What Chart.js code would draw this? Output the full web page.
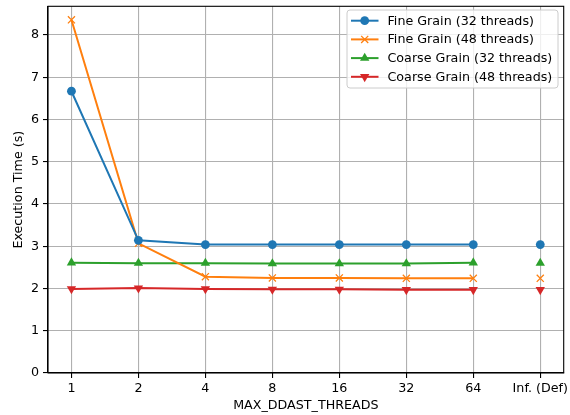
<!DOCTYPE html>
<html><head><meta charset="utf-8">
<script src="https://cdn.jsdelivr.net/npm/chart.js@4/dist/chart.umd.min.js"></script>
<style>html,body{margin:0;padding:0;background:#fff}</style>
</head><body>
<canvas id="c" width="570" height="415"></canvas>
<script>
const categories = ['1','2','4','8','16','32','64','Inf. (Def)'];
const fine32 = [6.67, 3.14, 3.04, 3.04, 3.04, 3.04, 3.04, 3.04];
const fine48 = [8.36, 3.07, 2.28, 2.25, 2.25, 2.24, 2.24, 2.24];
const coarse32 = [2.61, 2.60, 2.60, 2.59, 2.59, 2.59, 2.61, 2.60];
const coarse48 = [1.99, 2.01, 1.99, 1.98, 1.98, 1.97, 1.97, 1.97];
const yTicks = [0, 1, 2, 3, 4, 5, 6, 7, 8];
const seriesNames = ['Fine Grain (32 threads)', 'Fine Grain (48 threads)', 'Coarse Grain (32 threads)', 'Coarse Grain (48 threads)'];

const FONT = {family: 'DejaVu Sans', size: 12.7, lineHeight: 1.2};
const styles = [
  {color: '#1f77b4', pointStyle: 'circle', rotation: 0, radius: 4.4, bw: 0},
  {color: '#ff7f0e', pointStyle: 'crossRot', rotation: 0, radius: 5, bw: 1.3},
  {color: '#2ca02c', pointStyle: 'triangle', rotation: 0, radius: 5.4, bw: 0},
  {color: '#d62728', pointStyle: 'triangle', rotation: 180, radius: 5.4, bw: 0}
];
const allSeries = [fine32, fine48, coarse32, coarse48];

const datasets = allSeries.map((vals, k) => ({
  label: seriesNames[k],
  data: vals.map((v, i) => ({x: i, y: v})),
  borderColor: styles[k].color,
  backgroundColor: styles[k].color,
  pointBackgroundColor: styles[k].color,
  pointBorderColor: styles[k].color,
  pointStyle: styles[k].pointStyle,
  pointRotation: styles[k].rotation,
  pointRadius: styles[k].radius,
  pointHoverRadius: styles[k].radius,
  pointBorderWidth: styles[k].bw,
  borderWidth: 2,
  tension: 0,
  fill: false,
  segment: {borderColor: ctx => ctx.p1DataIndex === categories.length - 1 ? 'rgba(0,0,0,0)' : undefined}
}));

const framePlugin = {
  id: 'frame',
  afterDatasetsDraw(chart) {
    const {ctx, chartArea: a} = chart;
    ctx.save();
    ctx.strokeStyle = '#000';
    ctx.lineWidth = 1.1;
    ctx.strokeRect(a.left, a.top, a.right - a.left, a.bottom - a.top);
    ctx.restore();
  }
};

const legendPlugin = {
  id: 'mplLegend',
  afterDraw(chart) {
    const ctx = chart.ctx;
    const x0 = 347, y0 = 10, w = 211, h = 78, r = 3;
    ctx.save();
    ctx.beginPath();
    ctx.moveTo(x0 + r, y0);
    ctx.arcTo(x0 + w, y0, x0 + w, y0 + h, r);
    ctx.arcTo(x0 + w, y0 + h, x0, y0 + h, r);
    ctx.arcTo(x0, y0 + h, x0, y0, r);
    ctx.arcTo(x0, y0, x0 + w, y0, r);
    ctx.closePath();
    ctx.fillStyle = 'rgba(255,255,255,0.8)';
    ctx.fill();
    ctx.strokeStyle = '#cccccc';
    ctx.lineWidth = 1;
    ctx.stroke();
    ctx.font = '12.7px "DejaVu Sans"';
    ctx.textBaseline = 'middle';
    ctx.textAlign = 'left';
    seriesNames.forEach((name, k) => {
      const y = 20.7 + k * 18.7;
      const s = styles[k];
      ctx.strokeStyle = s.color;
      ctx.fillStyle = s.color;
      ctx.lineWidth = 2;
      ctx.beginPath();
      ctx.moveTo(351, y);
      ctx.lineTo(378.5, y);
      ctx.stroke();
      ctx.lineWidth = s.bw || 1;
      Chart.helpers.drawPoint(ctx, {pointStyle: s.pointStyle, radius: s.radius, rotation: s.rotation, borderWidth: s.bw}, 364.7, y);
      ctx.fillStyle = '#000';
      ctx.fillText(name, 387.5, y + 0.5);
    });
    ctx.restore();
  }
};

new Chart(document.getElementById('c'), {
  type: 'line',
  data: {datasets},
  options: {
    responsive: false,
    animation: false,
    devicePixelRatio: 1,
    layout: {padding: {top: 2, right: 5, left: 0, bottom: 0}},
    plugins: {legend: {display: false}, tooltip: {enabled: false}},
    scales: {
      x: {
        type: 'linear',
        min: -0.35, max: 7.35,
        afterBuildTicks: s => { s.ticks = categories.map((_, i) => ({value: i})); },
        afterFit: s => { s.height = 42; s.paddingLeft = 0; s.paddingRight = 0; },
        ticks: {
          callback: v => categories[v],
          font: FONT, color: '#000', padding: 3, maxRotation: 0, autoSkip: false
        },
        grid: {color: '#b0b0b0', lineWidth: 1.1, tickLength: 5, tickColor: '#000', tickWidth: 1.1},
        border: {display: true, color: '#000', width: 1.1},
        title: {display: true, text: 'MAX_DDAST_THREADS', font: FONT, color: '#000', padding: {top: 0, bottom: 2}}
      },
      y: {
        type: 'linear',
        min: 0, max: 8.68,
        afterBuildTicks: s => { s.ticks = yTicks.map(v => ({value: v})); },
        afterFit: s => { s.width = 48; s.paddingTop = 0; s.paddingBottom = 0; },
        ticks: {font: FONT, color: '#000', padding: 4, callback: v => String(v)},
        grid: {color: '#b0b0b0', lineWidth: 1.1, tickLength: 5, tickColor: '#000', tickWidth: 1.1},
        border: {display: true, color: '#000', width: 1.1},
        title: {display: true, text: 'Execution Time (s)', font: FONT, color: '#000', padding: {top: 11.5, bottom: 0}}
      }
    }
  },
  plugins: [framePlugin, legendPlugin]
});
</script>
</body></html>
